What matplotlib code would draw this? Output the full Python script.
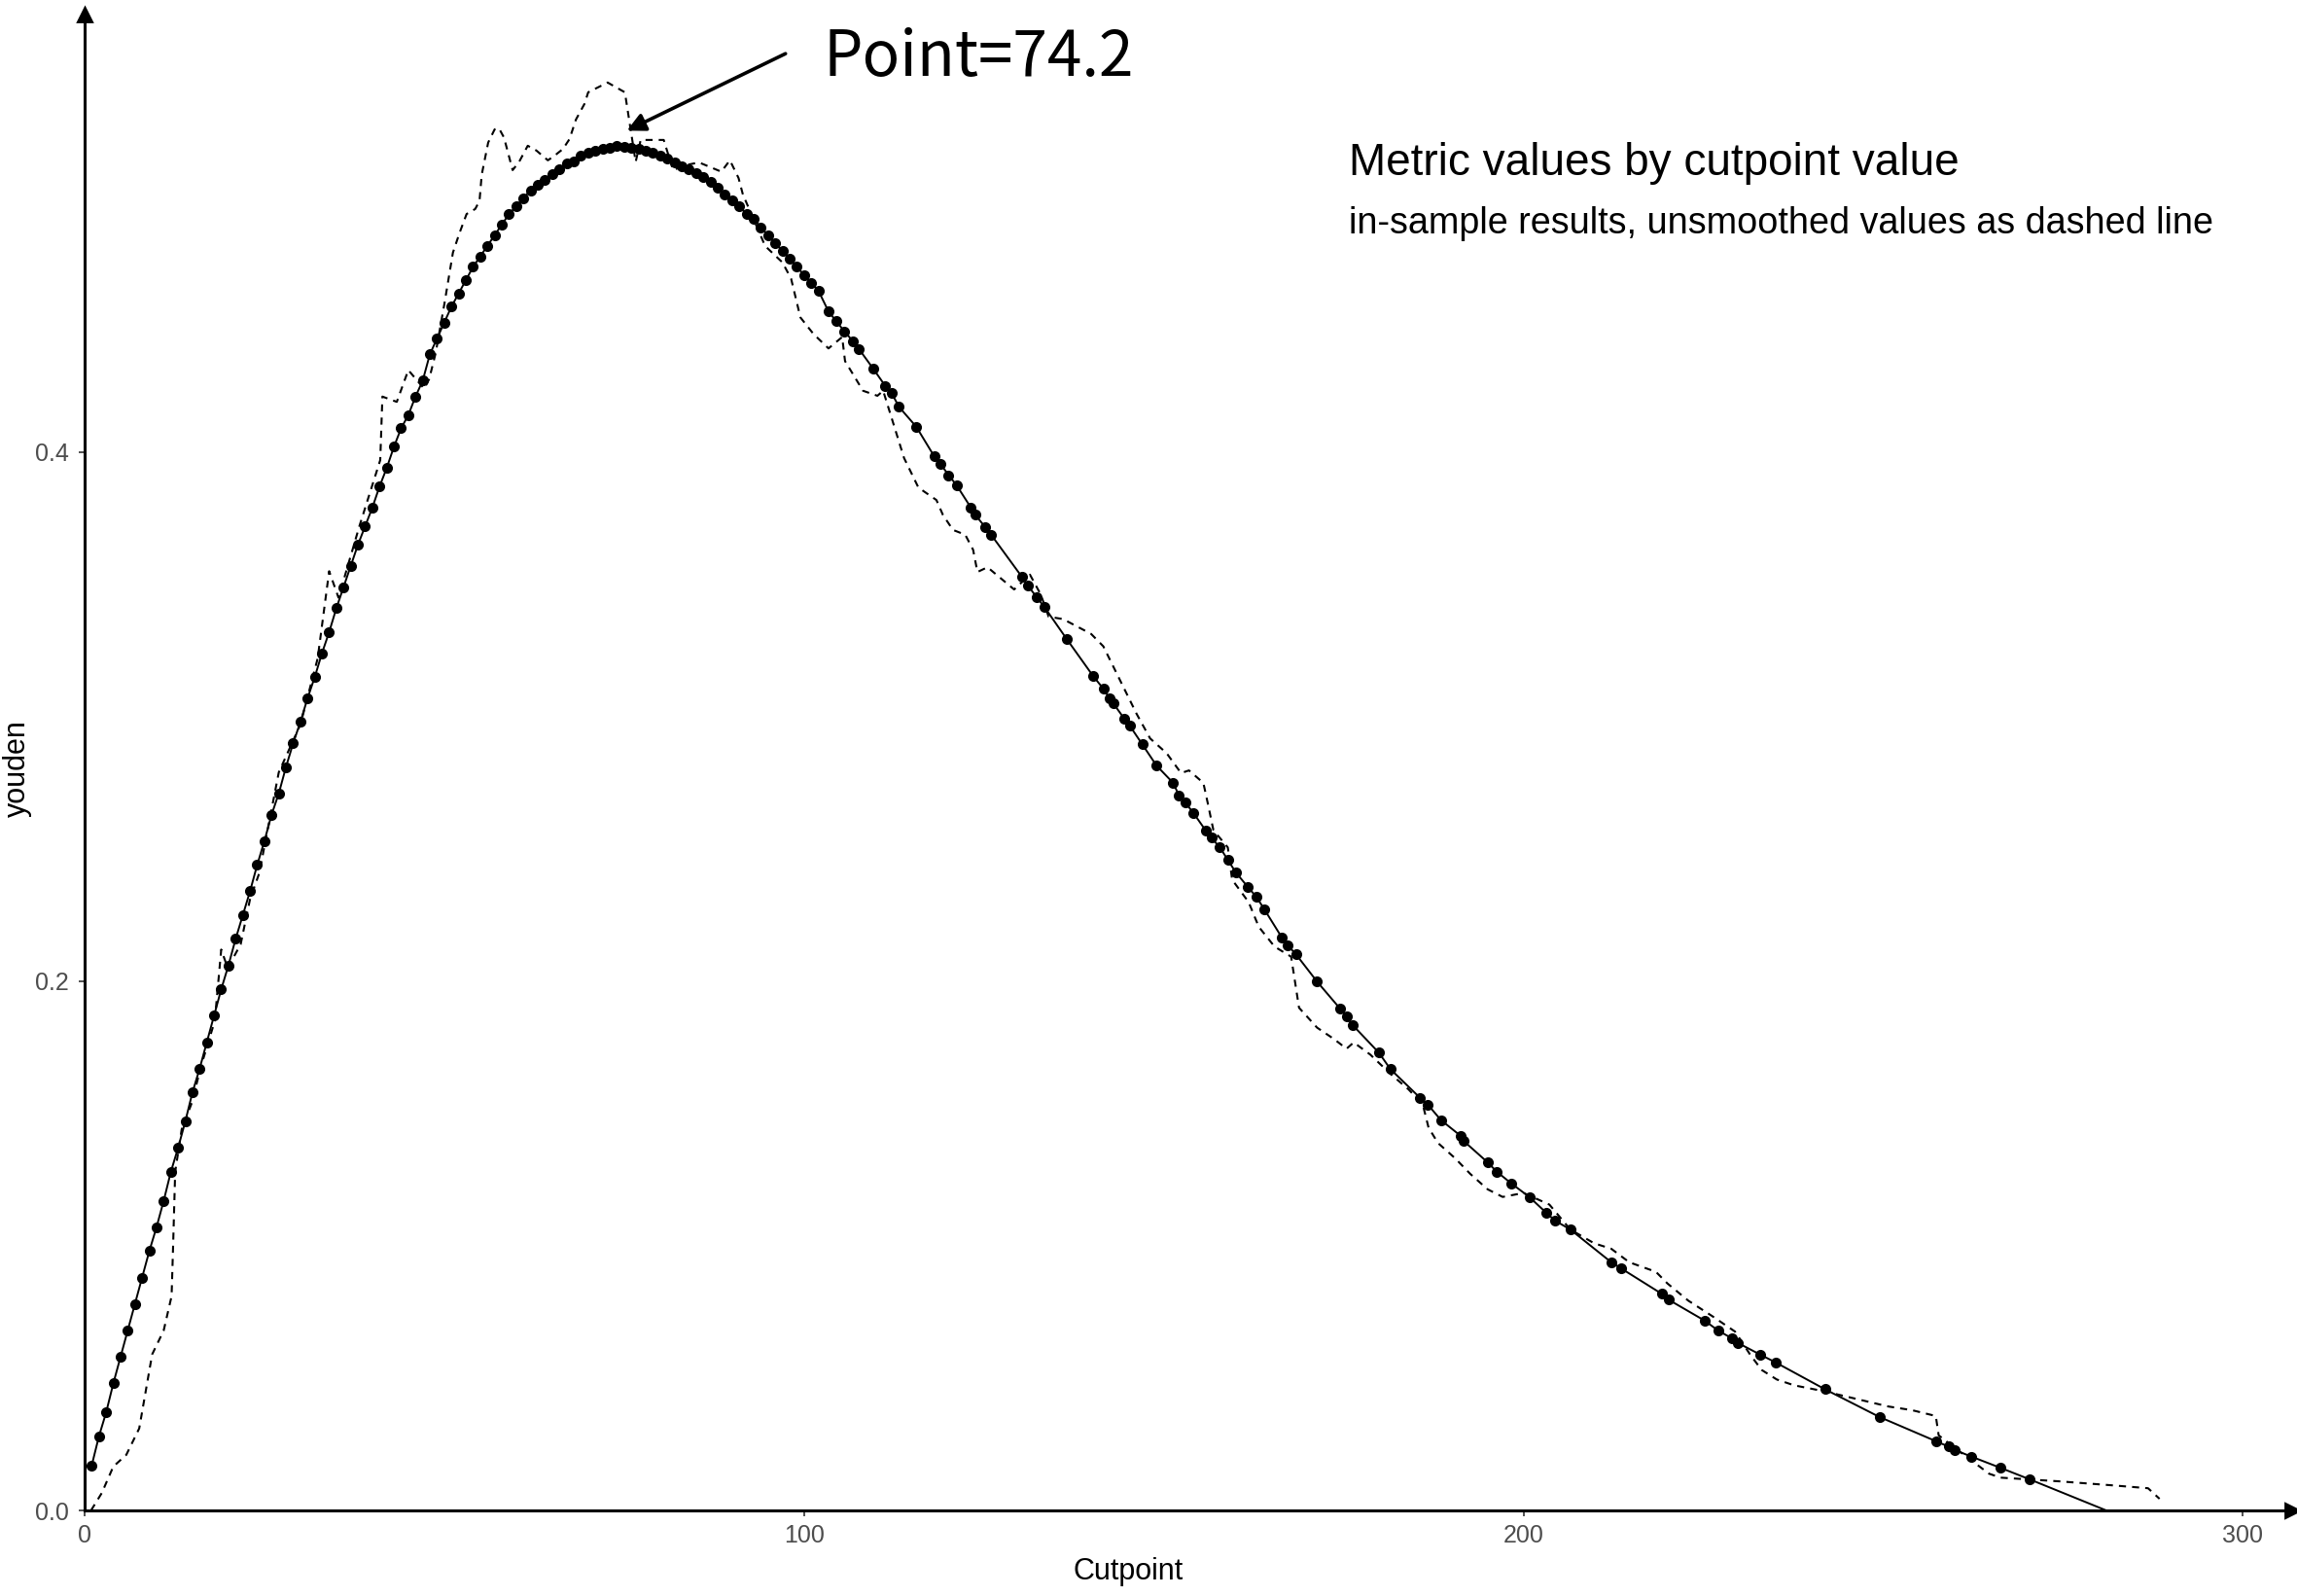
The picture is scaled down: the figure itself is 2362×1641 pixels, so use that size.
# Youden index by cutpoint, smoothed (dots) vs unsmoothed (dashed)

import numpy as np
import matplotlib.pyplot as plt

# smoothed metric, one dot per cutpoint
smooth_x = [1, 2, 3, 4, 5, 6, 7, 8, 9, 10, 11, 12, 13, 14, 15, 16, 17, 18, 19, 20,
            21, 22, 23, 24, 25, 26, 27, 28, 29, 30, 31, 32, 33, 34, 35, 36, 37, 38, 39, 40,
            41, 42, 43, 44, 45, 46, 47, 48, 49, 50, 51, 52, 53, 54, 55, 56, 57, 58, 59, 60,
            61, 62, 63, 64, 65, 66, 67, 68, 69, 70, 71, 72, 73, 74, 75, 76, 77, 78, 79, 80,
            81, 82, 83, 84, 85, 86, 87, 88, 89, 90, 91, 92, 93, 94, 95, 96, 97, 98, 99, 100,
            101, 102, 103.4, 104.5, 105.6, 106.8, 107.6, 109.6, 111.3, 112.2, 113.2, 115.6,
            118.1, 119.0, 120.1, 121.2, 123.2, 123.8, 125.2, 126.0, 130.3, 131.1, 132.3, 133.4,
            136.5, 140.2, 141.6, 142.5, 143.0, 144.5, 145.3, 147.0, 149.0, 151.3, 152.1, 153.0,
            154.1, 155.8, 156.6, 157.8, 158.9, 160.0, 161.7, 162.9, 164.0,
            166.4, 167.2, 168.4, 171.3, 174.5, 175.4, 176.2, 179.9, 181.5, 185.6, 186.7, 188.5,
            191.3, 191.7, 195.0, 196.3, 198.3, 200.8, 203.2, 204.4, 206.5, 212.2, 213.5, 219.2,
            220.2, 225.2, 227.1, 229.0, 229.8, 232.9, 235.0, 241.9, 249.5, 257.3, 259.1, 259.9,
            262.2, 266.3, 270.4]
smooth_y = [0.017, 0.028, 0.037, 0.048, 0.058, 0.068, 0.078, 0.088, 0.098, 0.107,
            0.117, 0.128, 0.137, 0.147, 0.158, 0.167, 0.177, 0.187, 0.197, 0.206,
            0.216, 0.225, 0.234, 0.244, 0.253, 0.263, 0.271, 0.281, 0.290, 0.298,
            0.307, 0.315, 0.324, 0.332, 0.341, 0.349, 0.357, 0.365, 0.372, 0.379,
            0.387, 0.394, 0.402, 0.409, 0.414, 0.421, 0.427, 0.437, 0.443, 0.449,
            0.455, 0.460, 0.465, 0.470, 0.474, 0.478, 0.482, 0.486, 0.490, 0.493,
            0.496, 0.499, 0.501, 0.503, 0.505, 0.507, 0.509, 0.510, 0.512, 0.513,
            0.514, 0.5145, 0.515, 0.5156, 0.5155, 0.515, 0.5148, 0.514, 0.513, 0.512,
            0.511, 0.5095, 0.508, 0.507, 0.5055, 0.504, 0.502, 0.500, 0.4975, 0.495,
            0.493, 0.490, 0.488, 0.485, 0.482, 0.479, 0.476, 0.473, 0.470, 0.467,
            0.464, 0.461, 0.4532, 0.4494, 0.4457, 0.4419, 0.4391, 0.4316, 0.425, 0.4222,
            0.4171, 0.4096, 0.3984, 0.3954, 0.3913, 0.3875, 0.379, 0.3763, 0.3716, 0.3688,
            0.3528, 0.3496, 0.3453, 0.3415, 0.3294, 0.3153, 0.3106, 0.3068, 0.305, 0.2993,
            0.2965, 0.2896, 0.2815, 0.275, 0.2703, 0.2675, 0.2637, 0.2571, 0.2543, 0.2506,
            0.2459, 0.2412, 0.2356, 0.2318, 0.2271,
            0.2166, 0.2137, 0.2101, 0.1999, 0.1897, 0.1868, 0.1836, 0.173, 0.1668, 0.156,
            0.1534, 0.1476, 0.1415, 0.1396, 0.1316, 0.128, 0.1236, 0.1185, 0.1124, 0.1095,
            0.1062, 0.0938, 0.0916, 0.0819, 0.0796, 0.0717, 0.0679, 0.065, 0.0633, 0.0589,
            0.056, 0.0458, 0.0353, 0.0262, 0.0241, 0.0229, 0.0204, 0.0161, 0.0117]
# smoothed line carries on past the last dot down to zero
line_end_x = 281.0
line_end_y = 0.0

# unsmoothed metric (dashed)
raw_x = [0.9, 2.4, 4.0, 5.8, 7.6, 8.5, 9.4, 11.0, 12.1, 12.3, 12.6, 13.5, 14.9, 16.2,
         18.1, 19.0, 19.9, 21.7, 23.0, 24.3, 25.0, 27.0, 30.0, 32.4, 34.0, 35.3, 38.2,
         41.1, 41.4, 43.4, 45.0, 47.2, 47.9, 48.8, 50.0, 50.6, 51.2, 52.1, 53.1, 54.3,
         54.9, 55.2, 56.1, 57.0, 57.6, 58.3, 59.5, 60.4, 61.6, 62.8, 64.4, 65.3, 66.5,
         67.4, 68.3, 69.5, 70.0, 72.7, 75.1, 75.9, 76.6, 77.3, 80.5, 81.8, 83.6, 85.4,
         88.5, 89.7, 90.9, 91.5, 94.6, 97.0, 98.2, 99.5, 101.3, 103.4, 105.3, 105.7,
         108.2, 110.2, 111.0, 112.5, 113.9, 115.9, 118.4, 119.3, 120.7, 122.4, 123.5,
         124.1, 125.5, 129.2, 131.4, 132.9, 134.0, 136.0, 139.9, 141.6, 142.8, 144.5,
         146.2, 148.1, 150.4, 152.4, 153.5, 155.5, 156.1, 156.9, 158.9, 159.5, 161.8,
         163.2, 165.4, 167.7, 168.8, 171.3, 173.7, 175.4, 176.4, 178.7, 181.5, 184.0,
         186.0, 186.8, 188.1, 190.5, 192.6, 195.0, 197.1, 200.0, 203.6, 206.5, 209.8,
         212.2, 214.7, 218.4, 220.0, 222.9, 226.2, 229.4, 231.5, 233.1, 235.2, 237.6,
         241.7, 246.2, 250.7, 254.0, 257.3, 257.7, 260.1, 262.2, 264.7, 266.3, 270.4,
         274.5, 281.8, 286.8, 288.4]
raw_y = [0.0, 0.0066, 0.0166, 0.021, 0.031, 0.045, 0.059, 0.068, 0.081, 0.099, 0.128,
         0.144, 0.154, 0.168, 0.185, 0.212, 0.205, 0.214, 0.231, 0.241, 0.251, 0.279,
         0.297, 0.322, 0.355, 0.345, 0.372, 0.397, 0.421, 0.419, 0.431, 0.424, 0.4276,
         0.4374, 0.4558, 0.4656, 0.4754, 0.4827, 0.490, 0.4919, 0.495, 0.5048, 0.517,
         0.522, 0.5224, 0.5189, 0.5066, 0.5097, 0.5158, 0.514, 0.5103, 0.512, 0.5146,
         0.5183, 0.5257, 0.5317, 0.536, 0.5397, 0.536, 0.522, 0.5097, 0.518, 0.518,
         0.5066, 0.5085, 0.5095, 0.506, 0.5103, 0.5036, 0.4974, 0.4779, 0.4717, 0.4656,
         0.4509, 0.4447, 0.4392, 0.4435, 0.4344, 0.4232, 0.4213, 0.4232, 0.410, 0.3978,
         0.3866, 0.3819, 0.3763, 0.3706, 0.3688, 0.3631, 0.3547, 0.3565, 0.3481, 0.3537,
         0.3462, 0.3378, 0.3369, 0.3313, 0.3266, 0.320, 0.3106, 0.3012, 0.2918, 0.2862,
         0.2787, 0.2797, 0.275, 0.2675, 0.2571, 0.2506, 0.2384, 0.2299, 0.2206, 0.2131,
         0.2093, 0.190, 0.1825, 0.1781, 0.1745, 0.1769, 0.1723, 0.165, 0.1592, 0.1534,
         0.1447, 0.1389, 0.1331, 0.1272, 0.1214, 0.1185, 0.120, 0.1156, 0.1062, 0.101,
         0.0989, 0.0938, 0.0902, 0.0858, 0.0793, 0.0735, 0.0676, 0.0589, 0.0531, 0.0495,
         0.0473, 0.0451, 0.0422, 0.0393, 0.0379, 0.0357, 0.0284, 0.0233, 0.019, 0.0139,
         0.0124, 0.0117, 0.011, 0.0095, 0.0084, 0.0044]

optimal_cut = 74.2
optimal_val = 0.5156

x_ticks = [0, 100, 200, 300]
y_ticks = [0.0, 0.2, 0.4]
y_ticklabels = ['0.0', '0.2', '0.4']

plt.rcParams['font.family'] = ['Liberation Sans', 'DejaVu Sans']

fig = plt.figure(figsize=(11.81, 8.205), dpi=200)
ax = fig.add_axes([0.0368, 0.0536, 0.961, 0.9373])

ax.plot(raw_x, raw_y, color='black', lw=0.75, dashes=(3.5, 3))
ax.plot(smooth_x + [line_end_x], smooth_y + [line_end_y], color='black', lw=0.7)
ax.plot(smooth_x, smooth_y, 'o', color='black', ms=4.0, mec='black', mew=0)

ax.set_xlim(0, 306.8)
ax.set_ylim(0, 0.5654)

for s in ['top', 'right']:
    ax.spines[s].set_visible(False)
for s in ['left', 'bottom']:
    ax.spines[s].set_linewidth(1.1)
ax.plot(1, 0, '>', color='black', ms=5, transform=ax.transAxes, clip_on=False)
ax.plot(0, 1, '^', color='black', ms=5, transform=ax.transAxes, clip_on=False)

ax.set_xticks(x_ticks)
ax.set_yticks(y_ticks)
ax.set_yticklabels(y_ticklabels)
ax.tick_params(direction='out', length=2.2, width=0.6, color='#333333',
               labelsize=9, labelcolor='#4D4D4D')
ax.tick_params(axis='y', pad=3.5)
ax.tick_params(axis='x', pad=3)

ax.text(0.4727, -0.041, 'Cutpoint', transform=ax.transAxes, ha='center', va='center', fontsize=11)
ax.text(-0.0304, 0.496, 'youden', transform=ax.transAxes, ha='center', va='center',
        rotation=90, fontsize=11)

fig.text(0.5872, 0.8976, 'Metric values by cutpoint value', fontsize=16.5, va='center')
fig.text(0.5872, 0.8598, 'in-sample results, unsmoothed values as dashed line',
         fontsize=13.6, va='center')

ax.annotate('', xy=(optimal_cut + 0.5, optimal_val + 0.005), xytext=(98.1, 0.5515),
            arrowprops=dict(arrowstyle='-|>', color='black', lw=1.3, mutation_scale=14),
            annotation_clip=False)
ax.text(102.6, 0.549, 'Point=%.1f' % optimal_cut, fontsize=23,
        family=['Noto Sans CJK SC', 'DejaVu Sans'], ha='left', va='center', clip_on=False)

fig.savefig('out.png', dpi=200)
